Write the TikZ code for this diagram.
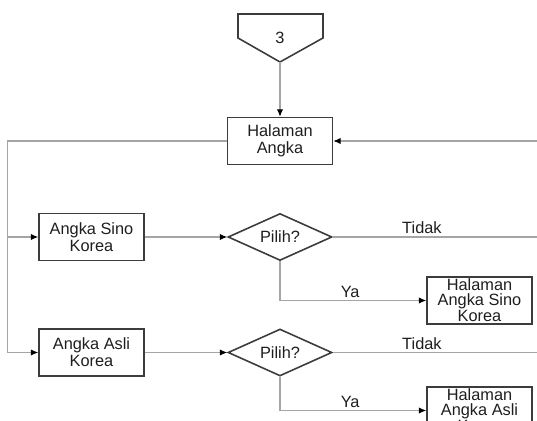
\documentclass[tikz,border=0pt]{standalone}
\usepackage{fontspec}
\setmainfont{Liberation Sans}
\usepackage{tikz}
\usetikzlibrary{arrows.meta,shapes.geometric}
\definecolor{linegray}{RGB}{165,165,165}
\definecolor{boxgray}{RGB}{60,60,60}
\definecolor{inkblack}{RGB}{30,30,30}

\tikzset{
  procbox/.style={draw=boxgray,line width=0.9pt,minimum width=2.1cm,minimum height=0.94cm,
    inner sep=0pt,align=center,text=inkblack,font=\fontsize{9.3}{9.6}\selectfont},
  tallbox/.style={procbox,font=\fontsize{9.3}{8.2}\selectfont},
  choice/.style={diamond,draw=boxgray,line width=0.9pt,minimum width=2.08cm,minimum height=0.94cm,
    inner sep=0pt,aspect=2.2,text=inkblack,font=\fontsize{9.3}{9.6}\selectfont},
  flowlabel/.style={text=inkblack,font=\fontsize{9.3}{9.6}\selectfont,inner sep=1.5pt},
  conn/.style={draw=linegray,line width=0.6pt,-{Latex[length=4.2pt,width=3.6pt,color=black]}},
  plain/.style={draw=linegray,line width=0.6pt}
}

\begin{document}
\begin{tikzpicture}[x=0.02cm,y=-0.02cm]
  \useasboundingbox (0,0) rectangle (537,421);
  \clip (0,0) rectangle (537,421);

  % off-page connector
  \draw[boxgray,line width=0.9pt] (238,14)--(323,14)--(323,38)--(280,62)--(238,38)--cycle;
  \node[flowlabel] (pageno) at (280,38) {3};
  \coordinate (offtip) at (280,62);

  % main nodes
  \node[procbox] (halAngka) at (280,141) {Halaman\\Angka};
  \node[procbox] (sino) at (91.5,237) {Angka Sino\\Korea};
  \node[choice] (pilihSino) at (280,237) {Pilih?};
  \node[tallbox] (hSino) at (479.5,300.5) {Halaman\\Angka Sino\\Korea};
  \node[procbox] (asli) at (91.5,352.5) {Angka Asli\\Korea};
  \node[choice] (pilihAsli) at (280,352.5) {Pilih?};
  \node[tallbox] (hAsli) at (479.5,410.5) {Halaman\\Angka Asli\\Korea};

  \coordinate (railtop) at (7.5,141);
  \coordinate (backin) at (545,141);
  \coordinate (tidakSino) at (545,237);
  \coordinate (tidakAsli) at (545,352.5);

  % connectors
  \draw[conn] (offtip) -- (halAngka.north);
  \draw[conn] (halAngka.west) -- (railtop) |- (sino.west);
  \draw[conn] (railtop) |- (asli.west);
  \draw[conn] (backin) -- (halAngka.east);
  \draw[conn] (sino.east) -- (pilihSino.west);
  \draw[conn] (asli.east) -- (pilihAsli.west);
  \draw[plain] (pilihSino.east) -- node[flowlabel,above,pos=0.42] (tidakA) {Tidak} (tidakSino);
  \draw[plain] (pilihAsli.east) -- node[flowlabel,above,pos=0.42] (tidakB) {Tidak} (tidakAsli);
  \draw[conn] (pilihSino.south) |- node[flowlabel,above,pos=0.74] (yaA) {Ya} (hSino.west);
  \draw[conn] (pilihAsli.south) |- node[flowlabel,above,pos=0.74] (yaB) {Ya} (hAsli.west);
\end{tikzpicture}
\end{document}
